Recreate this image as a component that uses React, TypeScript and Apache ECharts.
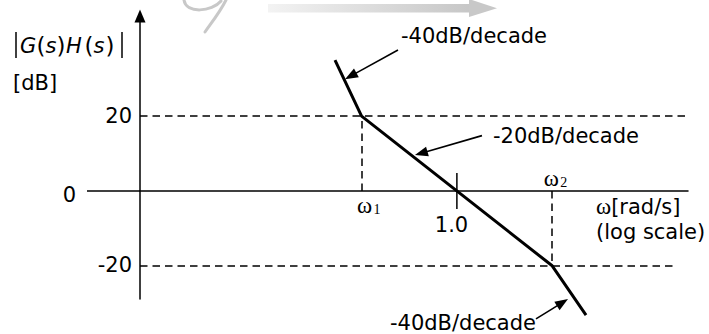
import React, { useEffect, useRef } from "react";
import * as echarts from "echarts";

// Asymptotic Bode magnitude plot, x value = log10(ω)
const logOmegaPoints = [-1.279, -1, 1, 1.355];
const magnitudeDb = [35.0, 20, -20, -33.2];
const cornerLogOmega = [-1, 1]; // ω1, ω2
const cornerDb = [20, -20];
const unityLogOmega = 0; // ω = 1.0
const unityTickHalfDb = 4.8;
const levelDb = [20, -20];
const levelEndLogOmega = [2.414, 2.268];
const yTickValues = [20, 0, -20];
const yTickLabels = ["20", "0", "-20"];
const xTickValues = [-1, 0, 1];
const xTickLabels = ["ω", "1.0", "ω"];
const xTickSubs = ["1", "", "2"];
const slopeNotes = ["-40dB/decade", "-20dB/decade", "-40dB/decade"];
const noteTailLogOmega = [-0.618, 0.263, 0.83];
const noteTailDb = [37.7, 14.8, -34.2];
const noteTipLogOmega = [-1.174, -0.44, 1.166];
const noteTipDb = [29.9, 9.6, -28.9];

const X_MIN = -3.325;
const X_MAX = 2.425;
const Y_MIN = -28.88;
const Y_MAX = 46.79;

const SANS = "DejaVu Sans";
const SERIF = "Liberation Serif";
const FS = 21;

function txt(x: number, y: number, text: string, align: string, extra: any = {}) {
  return {
    type: "text",
    x,
    y,
    silent: true,
    style: {
      text,
      fontSize: FS,
      fontFamily: SANS,
      fill: "#000",
      align,
      verticalAlign: "middle",
      textAlign: align,
      textVerticalAlign: "middle",
      ...extra,
    },
  };
}

export default function App() {
  const ref = useRef<HTMLDivElement>(null);

  useEffect(() => {
    const chart = echarts.init(ref.current!, null, { renderer: "svg" });
    const dashStyle = { color: "#000", width: 1.5, type: [7.5, 5] };
    chart.setOption({
      animation: false,
      backgroundColor: "#fff",
      grid: { left: 140, right: 21, top: 16, bottom: 35 },
      xAxis: {
        type: "value",
        min: X_MIN,
        max: X_MAX,
        axisLine: { show: true, onZero: true, lineStyle: { color: "#000", width: 1.5 } },
        axisTick: { show: false },
        axisLabel: { show: false },
        splitLine: { show: false },
      },
      yAxis: {
        type: "value",
        min: Y_MIN,
        max: Y_MAX,
        axisLine: {
          show: true,
          onZero: false,
          symbol: ["none", "triangle"],
          symbolSize: [11, 13],
          lineStyle: { color: "#000", width: 1.5 },
        },
        axisTick: { show: false },
        axisLabel: { show: false },
        splitLine: { show: false },
      },
      series: [
        {
          type: "line",
          data: logOmegaPoints.map((x, i) => [x, magnitudeDb[i]]),
          symbol: "none",
          clip: false,
          z: 5,
          lineStyle: { color: "#000", width: 3 },
          silent: true,
          markLine: {
            silent: true,
            symbol: ["none", "none"],
            label: { show: false },
            lineStyle: dashStyle,
            emphasis: { disabled: true },
            data: [
              ...levelDb.map((d, i) => [
                { coord: [X_MIN, d], lineStyle: dashStyle },
                { coord: [levelEndLogOmega[i], d] },
              ]),
              ...cornerLogOmega.map((x, i) => [
                { coord: [x, 0], lineStyle: dashStyle },
                { coord: [x, cornerDb[i]] },
              ]),
            ],
          },
        },
        {
          type: "line",
          data: [
            [unityLogOmega, -unityTickHalfDb],
            [unityLogOmega, unityTickHalfDb],
          ],
          symbol: "none",
          silent: true,
          z: 4,
          lineStyle: { color: "#000", width: 1.5 },
        },
      ],
    });

    const px = (x: number, y: number) =>
      chart.convertToPixel({ gridIndex: 0 }, [x, y]) as number[];

    const g: any[] = [];
    const origin = px(X_MIN, 0);

    // watermark
    g.push({
      type: "rect",
      silent: true,
      shape: { x: 268, y: 4, width: 204, height: 8.5 },
      style: {
        fill: new echarts.graphic.LinearGradient(0, 0, 1, 0, [
          { offset: 0, color: "#f3f3f3" },
          { offset: 1, color: "#c6c6c6" },
        ]),
      },
    });
    g.push({
      type: "polygon",
      silent: true,
      shape: { points: [[469, -1], [497, 8.3], [469, 17]] },
      style: { fill: "#c8c8c8" },
    });
    g.push({
      type: "bezierCurve",
      silent: true,
      shape: { x1: 184, y1: 0, cpx1: 186, cpy1: 14, cpx2: 212, cpy2: 12, x2: 221, y2: 1 },
      style: { stroke: "#c8c8c8", lineWidth: 3, fill: "none", lineCap: "round" },
    });
    g.push({
      type: "bezierCurve",
      silent: true,
      shape: { x1: 226, y1: 0, cpx1: 220, cpy1: 12, cpx2: 212, cpy2: 22, x2: 205, y2: 32 },
      style: { stroke: "#c8c8c8", lineWidth: 3, fill: "none", lineCap: "round" },
    });

    // x-axis extension left of the y axis
    g.push({
      type: "line",
      silent: true,
      shape: { x1: 87, y1: origin[1], x2: origin[0], y2: origin[1] },
      style: { stroke: "#000", lineWidth: 1.5 },
    });

    // y tick labels
    yTickValues.forEach((v, i) => {
      const p = px(X_MIN, v);
      if (v === 0) g.push(txt(69.5, p[1] + 3.7, yTickLabels[i], "center"));
      else g.push(txt(p[0] - 8, p[1] - 0.3, yTickLabels[i], "right"));
    });

    // x tick labels
    xTickValues.forEach((v, i) => {
      const p = px(v, 0);
      if (xTickSubs[i]) {
        const below = i === 0;
        const wx = below ? p[0] - 4.5 : p[0] - 8.5;
        const wy = below ? p[1] + 14.6 : p[1] - 12.4;
        g.push(txt(wx, wy, xTickLabels[i], "left", { fontFamily: SERIF, fontSize: 23 }));
        g.push(txt(wx + 16.5, wy + 4, xTickSubs[i], "left", { fontFamily: SERIF, fontSize: 14 }));
      } else {
        g.push(txt(p[0] - 5.4, p[1] + 34, xTickLabels[i], "center"));
      }
    });

    // axis titles
    g.push({
      type: "line",
      silent: true,
      shape: { x1: 16, y1: 32, x2: 16, y2: 58 },
      style: { stroke: "#000", lineWidth: 1.5 },
    });
    g.push({
      type: "line",
      silent: true,
      shape: { x1: 122, y1: 32, x2: 122, y2: 58 },
      style: { stroke: "#000", lineWidth: 1.5 },
    });
    const it = (w: number) => ({
      fontSize: FS, fontFamily: SANS, fontStyle: "italic", fill: "#000", verticalAlign: "middle", width: w,
    });
    const pr = (w: number) => ({
      fontSize: 23, fontFamily: SANS, fill: "#000", verticalAlign: "middle", width: w,
    });
    g.push({
      type: "text",
      x: 20,
      y: 45.7,
      silent: true,
      style: {
        text: "{a|G}{b|(}{c|s}{d|)}{e|H}{f|(}{g|s}{h|)}",
        align: "left",
        verticalAlign: "middle",
        textAlign: "left",
        textVerticalAlign: "middle",
        fontSize: FS,
        fontFamily: SANS,
        fill: "#000",
        rich: {
          a: it(16.5),
          b: pr(9),
          c: it(11),
          d: pr(9.5),
          e: it(18.5),
          f: pr(9),
          g: it(12),
          h: pr(9),
        },
      },
    });
    g.push(txt(13, 82.7, "[dB]", "left"));
    g.push({
      type: "text",
      x: 596,
      y: 206.7,
      silent: true,
      style: {
        text: "{w|ω}{t|[rad/s]}",
        align: "left",
        verticalAlign: "middle",
        textAlign: "left",
        textVerticalAlign: "middle",
        fontSize: FS,
        fontFamily: SANS,
        fill: "#000",
        rich: {
          w: { fontSize: 23, fontFamily: SERIF, fill: "#000", verticalAlign: "middle" },
          t: { fontSize: FS, fontFamily: SANS, fill: "#000", verticalAlign: "middle" },
        },
      },
    });
    g.push(txt(596, 232, "(log scale)", "left"));

    // slope notes with arrows
    slopeNotes.forEach((note, i) => {
      const tail = px(noteTailLogOmega[i], noteTailDb[i]);
      const tip = px(noteTipLogOmega[i], noteTipDb[i]);
      const dx = tip[0] - tail[0];
      const dy = tip[1] - tail[1];
      const len = Math.hypot(dx, dy);
      const ux = dx / len;
      const uy = dy / len;
      const hl = 13;
      const hw = 5;
      const bx = tip[0] - ux * hl;
      const by = tip[1] - uy * hl;
      g.push({
        type: "line",
        silent: true,
        shape: { x1: tail[0], y1: tail[1], x2: bx + ux * 2, y2: by + uy * 2 },
        style: { stroke: "#000", lineWidth: 1.6 },
      });
      g.push({
        type: "polygon",
        silent: true,
        shape: {
          points: [
            [tip[0], tip[1]],
            [bx - uy * hw, by + ux * hw],
            [bx + uy * hw, by - ux * hw],
          ],
        },
        style: { fill: "#000" },
      });
      if (i === 0) g.push(txt(tail[0] + 3, tail[1] - 14, note, "left"));
      else if (i === 1) g.push(txt(tail[0] + 11, tail[1] + 0.5, note, "left"));
      else g.push(txt(tail[0] + 0, tail[1] + 4, note, "right"));
    });

    chart.setOption({ graphic: { elements: g } });

    return () => chart.dispose();
  }, []);

  return (
    <div
      ref={ref}
      style={{ position: "fixed", left: 0, top: 0, width: 709, height: 334, background: "#fff" }}
    />
  );
}
